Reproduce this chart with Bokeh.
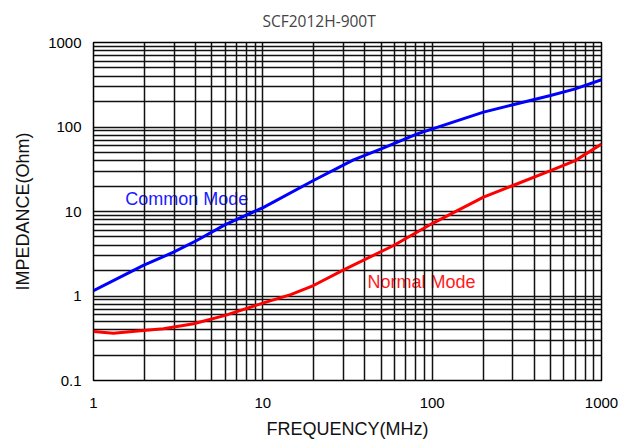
from bokeh.plotting import figure
from bokeh.models import FixedTicker, Label, Range1d
from bokeh.embed import file_html
from bokeh.resources import INLINE

# ---- data ----
cm_freq = [1, 1.97, 2.97, 4.07, 6.0, 10.1, 19.9, 34.3, 50, 81.7, 201, 300, 500, 700, 1000]
cm_imp = [1.16, 2.3, 3.3, 4.54, 7.0, 11.2, 23.3, 40.9, 55, 83, 150, 183, 236, 283, 362]

nm_freq = [1, 1.31, 1.97, 2.59, 3.9, 6.0, 10.1, 14.6, 19.9, 30, 59.2, 100, 201, 300, 500, 700, 1000]
nm_imp = [0.38, 0.363, 0.39, 0.41, 0.47, 0.59, 0.83, 1.04, 1.33, 2.04, 3.96, 7.2, 14.8, 20.3, 30.5, 40, 63]

x_ticks = [1, 10, 100, 1000]
x_tick_labels = ["1", "10", "100", "1000"]
y_ticks = [0.1, 1, 10, 100, 1000]
y_tick_labels = ["0.1", "1", "10", "100", "1000"]

title_text = "SCF2012H-900T"
x_label = "FREQUENCY(MHz)"
y_label = "IMPEDANCE(Ohm)"
cm_label = "Common Mode"
nm_label = "Normal Mode"

# all grid lines: 1..9 in each decade
def decade_lines(lo_exp, hi_exp):
    out = []
    for e in range(lo_exp, hi_exp):
        for m in range(1, 10):
            out.append(round(m * 10.0 ** e, 6))
    out.append(10.0 ** hi_exp)
    return out

x_grid = decade_lines(0, 3)
y_grid = decade_lines(-1, 3)

p = figure(width=633, height=444, x_axis_type="log", y_axis_type="log",
           x_range=Range1d(1, 1000), y_range=Range1d(0.1, 1000),
           output_backend="svg", toolbar_location=None,
           min_border_left=93, min_border_right=32, min_border_top=42, min_border_bottom=64)

p.background_fill_color = "white"
p.border_fill_color = "white"
p.outline_line_color = "black"
p.outline_line_width = 1.5

# title
p.title.text = title_text
p.title.align = "left"
p.title.offset = 169
p.title.text_font = "Open Sans"
p.title.text_font_size = "15.5px"
p.title.text_font_style = "normal"
p.title.text_color = "#444444"
p.title.text_line_height = 1.0
p.title.standoff = 18
p.title.vertical_align = "top"

# grids
for g, ticks in ((p.xgrid, x_grid), (p.ygrid, y_grid)):
    g.ticker = FixedTicker(ticks=ticks)
    g.grid_line_color = "#111111"
    g.grid_line_width = 1.5
    g.grid_line_alpha = 1.0

# axes
for ax, ticks, labels in ((p.xaxis[0], x_ticks, x_tick_labels), (p.yaxis[0], y_ticks, y_tick_labels)):
    ax.ticker = FixedTicker(ticks=ticks, minor_ticks=[])
    ax.major_label_overrides = {t: l for t, l in zip(ticks, labels)}
    ax.axis_line_color = None
    ax.major_tick_line_color = None
    ax.minor_tick_line_color = None
    ax.major_tick_in = 0
    ax.major_tick_out = 0
    ax.major_label_text_font = "Liberation Sans"
    ax.major_label_text_font_size = "15px"
    ax.major_label_text_color = "black"
    ax.axis_label_text_font = "Liberation Sans"
    ax.axis_label_text_font_size = "18px"
    ax.axis_label_text_font_style = "normal"
    ax.axis_label_text_color = "#111111"

p.xaxis.axis_label = x_label
p.yaxis.axis_label = y_label
p.xaxis.major_label_standoff = 17
p.xaxis.axis_label_standoff = 8
p.yaxis.major_label_standoff = 12
p.yaxis.axis_label_standoff = 12

# curves
p.line(cm_freq, cm_imp, line_color="#0000ff", line_width=3)
p.line(nm_freq, nm_imp, line_color="#ff0000", line_width=3)

# in-plot labels
p.add_layout(Label(x=1.54, y=14.1, text=cm_label, text_font="Liberation Sans",
                   text_font_size="18px", text_color="#1a1aff", text_baseline="middle",
                   text_align="left", level="image"))
p.add_layout(Label(x=41.5, y=1.46, text=nm_label, text_font="Liberation Sans",
                   text_font_size="18px", text_color="#ff1a1a", text_baseline="middle",
                   text_align="left", level="image"))

open("out.html", "w").write(file_html(p, INLINE))
